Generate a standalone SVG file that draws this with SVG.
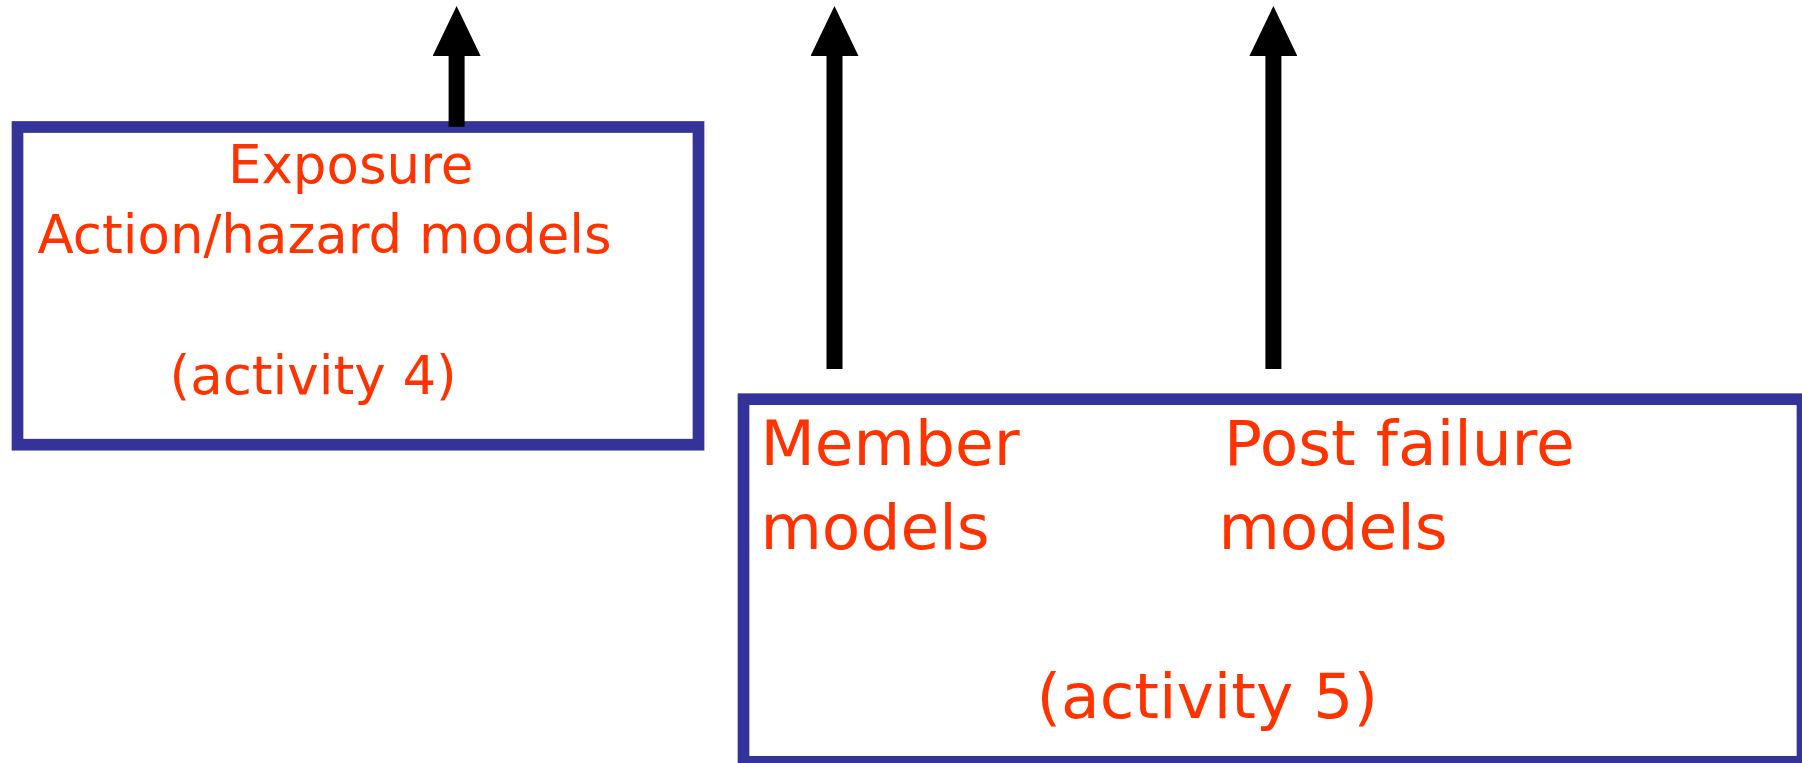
<svg xmlns="http://www.w3.org/2000/svg" width="1802" height="763" viewBox="0 0 1802 763">
<style>
.box{fill:#FFFFFF;stroke:#333399;stroke-width:11.7}
.lbl{fill:#FF3300;font-family:"DejaVu Sans","Liberation Sans",sans-serif}
.s1{font-size:53px}
.s2{font-size:63px}
.conn{stroke:#000000;stroke-width:16;fill:none;stroke-linecap:butt}
</style>
<defs>
<marker id="ah" markerUnits="userSpaceOnUse" viewBox="-2 0 50 48" refX="0" refY="24" markerWidth="50" markerHeight="48" orient="auto">
<path d="M-2,0 L48,24 L-2,48 Z" fill="#000000"/>
</marker>
</defs>
<rect width="1802" height="763" fill="#FFFFFF"/>
<g id="node-activity4">
<rect class="box" x="17.5" y="127" width="681" height="317.7"/>
<text class="lbl s1" x="228" y="182.7">Exposure</text>
<text class="lbl s1" x="37.5" y="253.3">Action/hazard models</text>
<text class="lbl s1" x="169.5" y="394">(activity 4)</text>
</g>
<g id="node-activity5">
<rect class="box" x="743.5" y="399.2" width="1059" height="362.6"/>
<text class="lbl s2" x="760.5" y="465">Member</text>
<text class="lbl s2" x="760.5" y="549.3">models</text>
<text class="lbl s2" x="1224" y="465">Post failure</text>
<text class="lbl s2" x="1218.5" y="549.3">models</text>
<text class="lbl s2" x="1036.5" y="718.3">(activity 5)</text>
</g>
<g id="connectors">
<line class="conn" x1="456.6" y1="126.7" x2="456.6" y2="54" marker-end="url(#ah)"/>
<line class="conn" x1="834.5" y1="369" x2="834.5" y2="54" marker-end="url(#ah)"/>
<line class="conn" x1="1273.4" y1="369" x2="1273.4" y2="54" marker-end="url(#ah)"/>
</g>
</svg>
